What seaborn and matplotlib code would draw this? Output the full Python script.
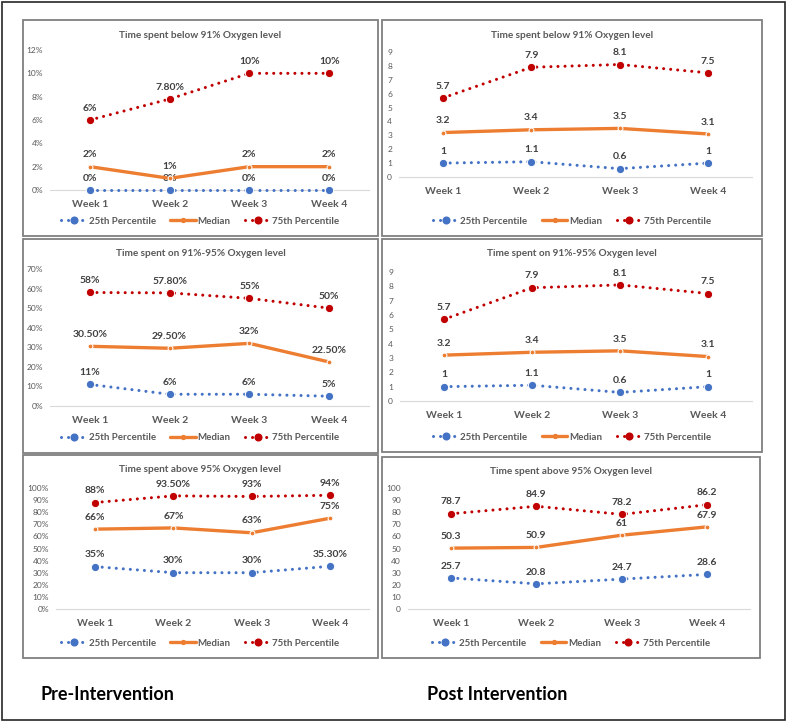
import matplotlib
matplotlib.use('Agg')
import matplotlib.pyplot as plt
from matplotlib.patches import Rectangle
from matplotlib.lines import Line2D
from matplotlib.ticker import FuncFormatter
import seaborn as sns

weeks = ['Week 1', 'Week 2', 'Week 3', 'Week 4']
series_names = ['25th Percentile', 'Median', '75th Percentile']

# Pre-intervention (fractions of time)
pre_below_p25 = [0.00, 0.00, 0.00, 0.00]
pre_below_med = [0.02, 0.01, 0.02, 0.02]
pre_below_p75 = [0.06, 0.078, 0.10, 0.10]

pre_on_p25 = [0.11, 0.06, 0.06, 0.05]
pre_on_med = [0.305, 0.295, 0.32, 0.225]
pre_on_p75 = [0.58, 0.578, 0.55, 0.50]

pre_above_p25 = [0.35, 0.30, 0.30, 0.353]
pre_above_med = [0.66, 0.67, 0.63, 0.75]
pre_above_p75 = [0.88, 0.935, 0.93, 0.94]

# Post intervention
post_below_p25 = [1, 1.1, 0.6, 1]
post_below_med = [3.2, 3.4, 3.5, 3.1]
post_below_p75 = [5.7, 7.9, 8.1, 7.5]

post_on_p25 = [1, 1.1, 0.6, 1]
post_on_med = [3.2, 3.4, 3.5, 3.1]
post_on_p75 = [5.7, 7.9, 8.1, 7.5]

post_above_p25 = [25.7, 20.8, 24.7, 28.6]
post_above_med = [50.3, 50.9, 61, 67.9]
post_above_p75 = [78.7, 84.9, 78.2, 86.2]

titles = ['Time spent below 91% Oxygen level',
          'Time spent on 91%-95% Oxygen level',
          'Time spent above 95% Oxygen level']

BLUE, ORANGE, RED = '#4472C4', '#ED7D31', '#C00000'
TXT, TICK = '#404040', '#595959'

sns.set_style('white')
plt.rcParams['font.family'] = ['Lato', 'DejaVu Sans']

W, H = 787, 722
fig = plt.figure(figsize=(W / 100, H / 100), dpi=100)


def fbox(l, t, r, b):
    return [l / W, 1 - b / H, (r - l) / W, (b - t) / H]


dot = (0, (0.01, 2.3))
styles = [
    dict(color=BLUE, linestyle=dot, linewidth=2.2, marker='o', markersize=6, dash_capstyle='round'),
    dict(color=ORANGE, linestyle='-', linewidth=2.4, marker='o', markersize=3.5),
    dict(color=RED, linestyle=dot, linewidth=2.2, marker='o', markersize=6, dash_capstyle='round'),
]

pct_fmt = lambda v: ('{:.0f}%'.format(v * 100) if abs(v * 100 - round(v * 100)) < 1e-9
                     else '{:.2f}%'.format(v * 100))
num_fmt = lambda v: '{:g}'.format(v)

panels = [
    # frame box, axes box, series, ymax, step, pct, title
    ((23, 20, 378, 236), (50, 50, 369, 190), [pre_below_p25, pre_below_med, pre_below_p75], 0.12, 0.02, True, titles[0]),
    ((382, 20, 762, 236), (399, 52, 752, 177), [post_below_p25, post_below_med, post_below_p75], 9, 1, False, titles[0]),
    ((23, 239, 378, 453), (50, 269, 369, 406), [pre_on_p25, pre_on_med, pre_on_p75], 0.7, 0.1, True, titles[1]),
    ((382, 239, 762, 452), (400, 272, 752, 401), [post_on_p25, post_on_med, post_on_p75], 9, 1, False, titles[1]),
    ((23, 455, 378, 658), (56, 488, 369, 609), [pre_above_p25, pre_above_med, pre_above_p75], 1.0, 0.1, True, titles[2]),
    ((382, 457, 760, 658), (408, 488, 750, 609), [post_above_p25, post_above_med, post_above_p75], 100, 10, False, titles[2]),
]

handles = [Line2D([0], [0], **s) for s in styles]

for frame, abox, series, ymax, step, pct, title in panels:
    fl, ft, fr, fb = frame
    fig.patches.append(Rectangle(((fl) / W, 1 - fb / H), (fr - fl) / W, (fb - ft) / H,
                                 transform=fig.transFigure, fill=False,
                                 edgecolor='#7F7F7F', linewidth=1.3))
    ax = fig.add_axes(fbox(*abox))
    fmt = pct_fmt if pct else num_fmt
    for vals, st in zip(series, styles):
        sns.lineplot(x=weeks, y=vals, ax=ax, sort=False, clip_on=False, zorder=3, **st)
        for i, v in enumerate(vals):
            ax.annotate(fmt(v), (i, v), xytext=(0, 8.5), textcoords='offset points',
                        ha='center', va='center', fontsize=7.5, fontweight='bold', color=TXT)
    ax.set_xlim(-0.5, 3.5)
    ax.set_ylim(0, ymax)
    n = int(round(ymax / step))
    ax.set_yticks([step * k for k in range(n + 1)])
    if pct:
        ax.yaxis.set_major_formatter(FuncFormatter(lambda v, p: '{:.0f}%'.format(v * 100)))
    else:
        ax.yaxis.set_major_formatter(FuncFormatter(lambda v, p: '{:.0f}'.format(v)))
    ax.tick_params(axis='y', length=0, pad=5, labelsize=6, labelcolor=TICK)
    ax.tick_params(axis='x', length=0, pad=7, labelsize=7.5, labelcolor=TICK)
    for lab in ax.get_xticklabels():
        lab.set_fontweight('bold')
    for sp in ['left', 'right', 'top']:
        ax.spines[sp].set_visible(False)
    ax.spines['bottom'].set_color('#D9D9D9')
    ax.spines['bottom'].set_linewidth(0.8)
    ax.spines['bottom'].set_zorder(1)
    ax.set_xlabel('')
    ax.set_ylabel('')
    ax.patch.set_alpha(0)
    if ax.get_legend():
        ax.get_legend().remove()
    cx = (fl + fr) / 2 / W
    fig.text(cx, 1 - (ft + 15) / H, title, ha='center', va='center',
             fontsize=7.2, fontweight='bold', color=TICK)
    fig.legend(handles, series_names, loc='center', bbox_to_anchor=(cx, 1 - (fb - 15) / H),
               ncol=3, frameon=False, handlelength=2.6, handletextpad=0.2, markerscale=0.8,
               columnspacing=1.5, prop=dict(weight='bold', size=7), labelcolor=TICK)

fig.text(40 / W, 1 - 695 / H, 'Pre-Intervention', ha='left', va='center',
         fontsize=13, fontweight='bold', color='black')
fig.text(427 / W, 1 - 695 / H, 'Post Intervention', ha='left', va='center',
         fontsize=13, fontweight='bold', color='black')

fig.patches.append(Rectangle((2 / W, 2 / H), (W - 4) / W, (H - 4) / H,
                             transform=fig.transFigure, fill=False,
                             edgecolor='#262626', linewidth=1.2))

fig.savefig('out.png', dpi=100)
